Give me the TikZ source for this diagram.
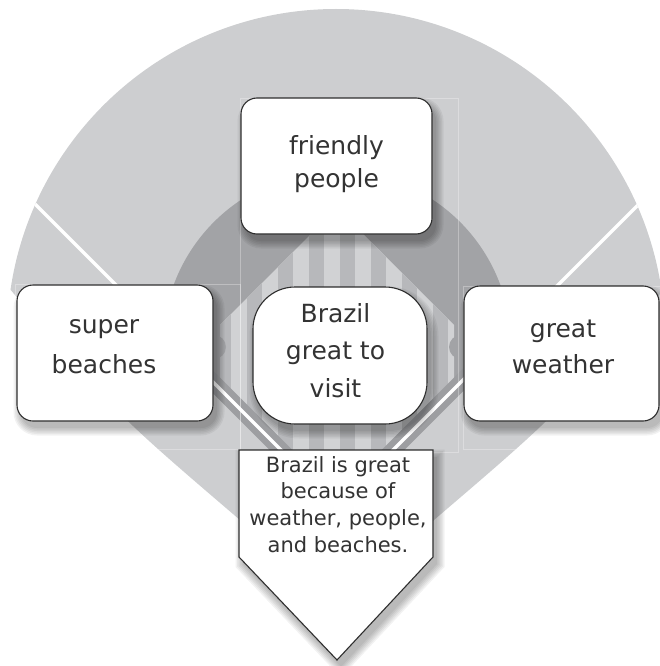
\documentclass[tikz,border=0pt]{standalone}
\usepackage{fontspec}
\setmainfont{DejaVu Sans}
\definecolor{field}{HTML}{CDCED0}
\definecolor{ring}{HTML}{A2A3A6}
\definecolor{stripeA}{HTML}{D1D2D4}
\definecolor{stripeB}{HTML}{B7B8BB}
\definecolor{band}{HTML}{9D9EA1}
\definecolor{edge}{HTML}{2E2E2E}
\definecolor{ink}{HTML}{333333}
\pgfdeclarelayer{back}
\pgfdeclarelayer{shade}
\pgfsetlayers{back,shade,main}
\tikzset{
  card/.style={draw=edge, line width=1.1pt, fill=white, rounded corners=16pt, inner sep=0pt, outer sep=0pt},
  words/.style={text=ink, inner sep=0pt, anchor=base, font=\fontsize{25}{#1}\selectfont},
  words/.default=37,
  platewords/.style={text=ink, inner sep=0pt, anchor=base, font=\fontsize{21}{26.7}\selectfont},
  faintline/.style={draw=white, draw opacity=0.3, line width=0.6pt},
}
\newcommand\stk[1]{\begin{tabular}[t]{@{}c@{}}#1\end{tabular}}
\def\fanpath{(-100,-60) -- (-100,180) -- (9,288) .. controls (115,413) .. (240,520) -- (337,617) -- (434,520) .. controls (559,413) .. (665,288) -- (774,180) -- (774,-60) -- cycle}
\begin{document}
\begin{tikzpicture}[x=1pt,y=-1pt]
\useasboundingbox (0,0) rectangle (660,666);
% boxes
\node[card, minimum width=191pt, minimum height=136pt] (fr) at (336.5,166) {};
\node[card, minimum width=196pt, minimum height=136pt] (sb) at (115,353) {};
\node[card, minimum width=195pt, minimum height=135pt] (gw) at (561.5,353.5) {};
\node[card, rounded corners=42pt, minimum width=174pt, minimum height=137pt] (bz) at (340,355.5) {};
\node[words=33] (frt) at (336.5,154) {\stk{friendly\\people}};
\node[words=40] (sbt) at (104,333) {\stk{super\\beaches}};
\node[words=36] (gwt) at (563,337) {\stk{great\\weather}};
\node[words=37.5] (bzt) at (335.5,322) {\stk{Brazil\\great to\\visit}};
\draw[draw=edge, line width=1.1pt, fill=white, line join=miter] (239,450) -- (433,450) -- (433,557) -- (337,660) -- (239,557) -- cycle;
\node[platewords] (plt) at (338,472) {\stk{Brazil is great\\because of\\weather, people,\\and beaches.}};
% field
\begin{pgfonlayer}{back}
 \begin{scope}
  \clip \fanpath;
  \clip (336,338) circle[radius=329pt];
  \fill[field] (0,0) rectangle (660,666);
  \begin{scope}
    \clip (337,506) -- (-63,106) -- (-63,-60) -- (737,-60) -- (737,106) -- cycle;
    \fill[ring] (337,345) circle[radius=174pt];
  \end{scope}
  \begin{scope}
    \clip (337,506) -- (220,389) -- (220,325) -- (337,208) -- (454,325) -- (454,389) -- cycle;
    \fill[stripeA] (180,200) rectangle (500,510);
    \foreach \k in {-5,...,4} \fill[stripeB] ({339.5+31*\k},200) rectangle ({355+31*\k},510);
  \end{scope}
  \fill[ring] (214,347) circle[radius=12pt];
  \fill[ring] (461,347) circle[radius=12pt];
  \draw[band, line width=16pt] (337,506) -- (205,374);
  \draw[band, line width=16pt] (337,506) -- (472,371);
  \draw[white, line width=3.2pt] (337,506) -- (30,199);
  \draw[white, line width=3.2pt] (337,506) -- (644,199);
  \draw[faintline] (240,98) rectangle (458,452);
  \draw[faintline] (463,286) rectangle (662,449);
  \draw[faintline] (15,284) rectangle (240,449);
 \end{scope}
\end{pgfonlayer}
% shadows
\begin{pgfonlayer}{shade}
 \foreach \n/\r in {fr/16,sb/16,gw/16,bz/42}{
  \foreach \g in {0,1.5,3,4.5,6,7.5}{
   \fill[black,opacity=0.05,rounded corners={(\r+\g)*1pt}] ([shift={(4-\g,7-\g)}]\n.north west) rectangle ([shift={(4+\g,7+\g)}]\n.south east);
  }}
 \foreach \g in {0,1.5,3,4.5,6,7.5}{
  \fill[black,opacity=0.05] (243-\g,457-\g) -- (437+\g,457-\g) -- (437+\g,564+0.4*\g) -- (341,667+1.41*\g) -- (243-\g,564+0.4*\g) -- cycle;
 }
\end{pgfonlayer}
\end{tikzpicture}
\end{document}
